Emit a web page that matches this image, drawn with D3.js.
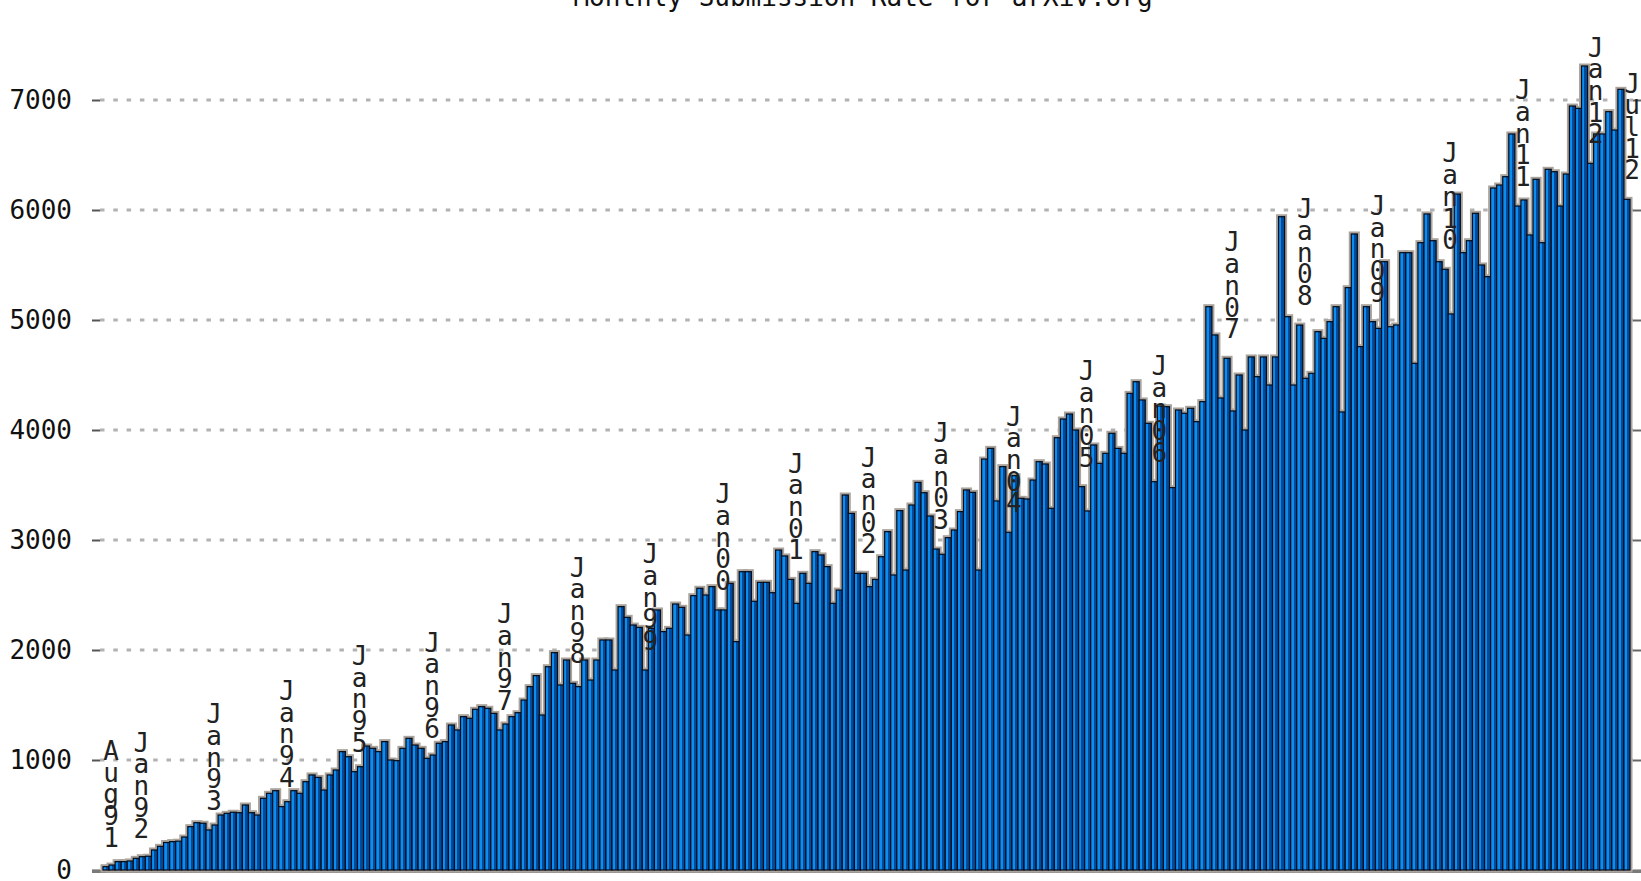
<!DOCTYPE html>
<html>
<head>
<meta charset="utf-8">
<script src="https://cdn.jsdelivr.net/npm/d3@7"></script>
<style>
  html, body { margin: 0; padding: 0; background: #ffffff; overflow: hidden; }
  svg text { font-family: "DejaVu Sans Mono", "Liberation Mono", monospace; }
  .month-label { writing-mode: vertical-rl; text-orientation: upright; }
</style>
</head>
<body>
<svg id="chart" width="1641" height="881"></svg>
<script>
// ---- data -------------------------------------------------------------
const chartTitle = "Monthly Submission Rate for arXiv.org";
const firstMonth = new Date(1991, 7, 1);   // August 1991

// new submissions per month, Aug 1991 onward
const submissions = [
  30, 45, 76, 76, 82, 106, 121, 125, 182, 215, 250, 258,
  262, 300, 394, 430, 425, 364, 409, 500, 515, 525, 521, 591,
  521, 500, 652, 697, 721, 576, 621, 721, 697, 803, 864, 842,
  727, 864, 909, 1076, 1030, 894, 939, 1127, 1106, 1076, 1167, 1000,
  994, 1106, 1197, 1136, 1106, 1015, 1045, 1152, 1167, 1318, 1273, 1394,
  1379, 1461, 1485, 1470, 1424, 1273, 1327, 1394, 1430, 1545, 1667, 1767,
  1409, 1848, 1976, 1682, 1909, 1697, 1667, 1909, 1727, 1909, 2091, 2091,
  1818, 2394, 2297, 2227, 2206, 1818, 2197, 2364, 2167, 2197, 2418, 2388,
  2136, 2494, 2561, 2500, 2576, 2364, 2364, 2606, 2076, 2712, 2712, 2443,
  2615, 2615, 2521, 2909, 2855, 2642, 2424, 2697, 2606, 2894, 2864, 2758,
  2424, 2545, 3409, 3242, 2697, 2697, 2576, 2642, 2848, 3076, 2682, 3267,
  2727, 3318, 3524, 3430, 3218, 2918, 2870, 3021, 3091, 3258, 3455, 3433,
  2727, 3736, 3833, 3355, 3667, 3070, 3585, 3379, 3373, 3545, 3712, 3691,
  3288, 3930, 4100, 4145, 4000, 3485, 3264, 3864, 3697, 3788, 3970, 3833,
  3788, 4333, 4439, 4273, 4061, 3530, 4218, 4212, 3476, 4182, 4152, 4197,
  4076, 4258, 5121, 4864, 4291, 4652, 4173, 4500, 4000, 4664, 4485, 4664,
  4409, 4664, 5939, 5030, 4409, 4954, 4470, 4515, 4894, 4833, 4985, 5121,
  4164, 5294, 5782, 4758, 5121, 4985, 4924, 5530, 4939, 4955, 5612, 5612,
  4606, 5703, 5964, 5721, 5530, 5461, 5055, 6145, 5612, 5721, 5970, 5500,
  5394, 6200, 6227, 6303, 6691, 6036, 6091, 5773, 6279, 5703, 6370, 6348,
  6036, 6327, 6945, 6924, 7309, 6424, 6691, 6691, 6894, 6727, 7097, 6097
];

const yTicks = [0, 1000, 2000, 3000, 4000, 5000, 6000, 7000];

// months that carry a stacked label above their bar
const monthLabels = [
  "Aug91", "Jan92", "Jan93", "Jan94", "Jan95", "Jan96", "Jan97", "Jan98",
  "Jan99", "Jan00", "Jan01", "Jan02", "Jan03", "Jan04", "Jan05", "Jan06",
  "Jan07", "Jan08", "Jan09", "Jan10", "Jan11", "Jan12", "Jul12"
];

// ---- layout -----------------------------------------------------------
const plot = { left: 92, right: 1641, barStart: 103, barEnd: 1630, top: 100, base: 870 };

const fmt = d3.timeFormat("%b%y");
const months = submissions.map((_, i) => fmt(d3.timeMonth.offset(firstMonth, i)));
const rows = months.map((m, i) => ({ month: m, value: submissions[i] }));

const x = d3.scaleBand().domain(months).range([plot.barStart, plot.barEnd]).padding(0);
const y = d3.scaleLinear().domain([0, 7000]).range([plot.base, plot.top]);
const bw = x.bandwidth();

const svg = d3.select("#chart");

const defs = svg.append("defs");
const grad = defs.append("linearGradient").attr("id", "barFill")
  .attr("x1", 0).attr("x2", 1).attr("y1", 0).attr("y2", 0);
[[0, "#0d8df0"], [0.48, "#0d8df0"], [0.48, "#004a9c"], [1, "#004a9c"]].forEach(([o, c]) =>
  grad.append("stop").attr("offset", o).attr("stop-color", c));

// title (sits partly above the visible area)
svg.append("text")
  .attr("x", 863).attr("y", 6)
  .attr("text-anchor", "middle")
  .attr("font-size", 26)
  .attr("fill", "#111")
  .text(chartTitle);

// dotted horizontal grid
svg.append("g").selectAll("line")
  .data(yTicks.filter(t => t > 0))
  .join("line")
  .attr("x1", plot.barStart - 3).attr("x2", plot.right - 8)
  .attr("y1", d => y(d)).attr("y2", d => y(d))
  .attr("stroke", "#b2b2b2")
  .attr("stroke-width", 3)
  .attr("stroke-dasharray", "4.5 8.8");

// left axis: inward ticks, labels on the outside
const yAxisL = d3.axisLeft(y).tickValues(yTicks).tickFormat(d3.format("d"))
  .tickSizeInner(-8).tickSizeOuter(0).tickPadding(20);
const gL = svg.append("g").attr("transform", `translate(${plot.left},0)`).call(yAxisL);
gL.select(".domain").remove();
gL.selectAll(".tick line").attr("stroke", "#555").attr("stroke-width", 2);
gL.selectAll(".tick text")
  .attr("font-size", 26).attr("fill", "#111")
  .style("font-family", "'DejaVu Sans Mono', monospace");

// right axis: mirrored ticks only
const yAxisR = d3.axisRight(y).tickValues(yTicks).tickSizeInner(-8).tickSizeOuter(0).tickFormat("");
const gR = svg.append("g").attr("transform", `translate(${plot.right},0)`).call(yAxisR);
gR.select(".domain").remove();
gR.selectAll(".tick line").attr("stroke", "#666").attr("stroke-width", 2);

// baseline
svg.append("line")
  .attr("x1", plot.left).attr("x2", plot.right)
  .attr("y1", plot.base + 1.5).attr("y2", plot.base + 1.5)
  .attr("stroke", "#7a7a7a").attr("stroke-width", 3);

// soft grey halo around the bar silhouette
svg.append("g").selectAll("rect")
  .data(rows)
  .join("rect")
  .attr("x", d => x(d.month))
  .attr("y", d => y(d.value))
  .attr("width", bw)
  .attr("height", d => plot.base - y(d.value))
  .attr("fill", "#aaa49c")
  .attr("stroke", "#aaa49c")
  .attr("stroke-width", 5);

// bars
svg.append("g").selectAll("rect")
  .data(rows)
  .join("rect")
  .attr("x", d => x(d.month))
  .attr("y", d => y(d.value))
  .attr("width", bw)
  .attr("height", d => plot.base - y(d.value))
  .attr("fill", "url(#barFill)")
  .attr("stroke", "#050c1a")
  .attr("stroke-width", 1.2);

// stacked month labels above selected bars: upright vertical text
const pitch = 21.7;
const labelRows = rows.filter(d => monthLabels.includes(d.month));
svg.append("g").selectAll("text")
  .data(labelRows)
  .join("text")
  .attr("class", "month-label")
  .attr("font-size", 26)
  .attr("fill", "#222")
  .attr("x", d => x(d.month) + bw / 2 + 5)
  .attr("y", 0)
  .text(d => d.month)
  .each(function (d) {
    const n = d.month.length;
    const adv = this.getComputedTextLength() / n;
    const sel = d3.select(this).attr("letter-spacing", (pitch - adv).toFixed(2));
    // place so the last character's baseline sits just above the bar
    const bottom = y(d.value) - 20;
    sel.attr("y", bottom - (n - 1) * pitch - 24);
  });
</script>
</body>
</html>
